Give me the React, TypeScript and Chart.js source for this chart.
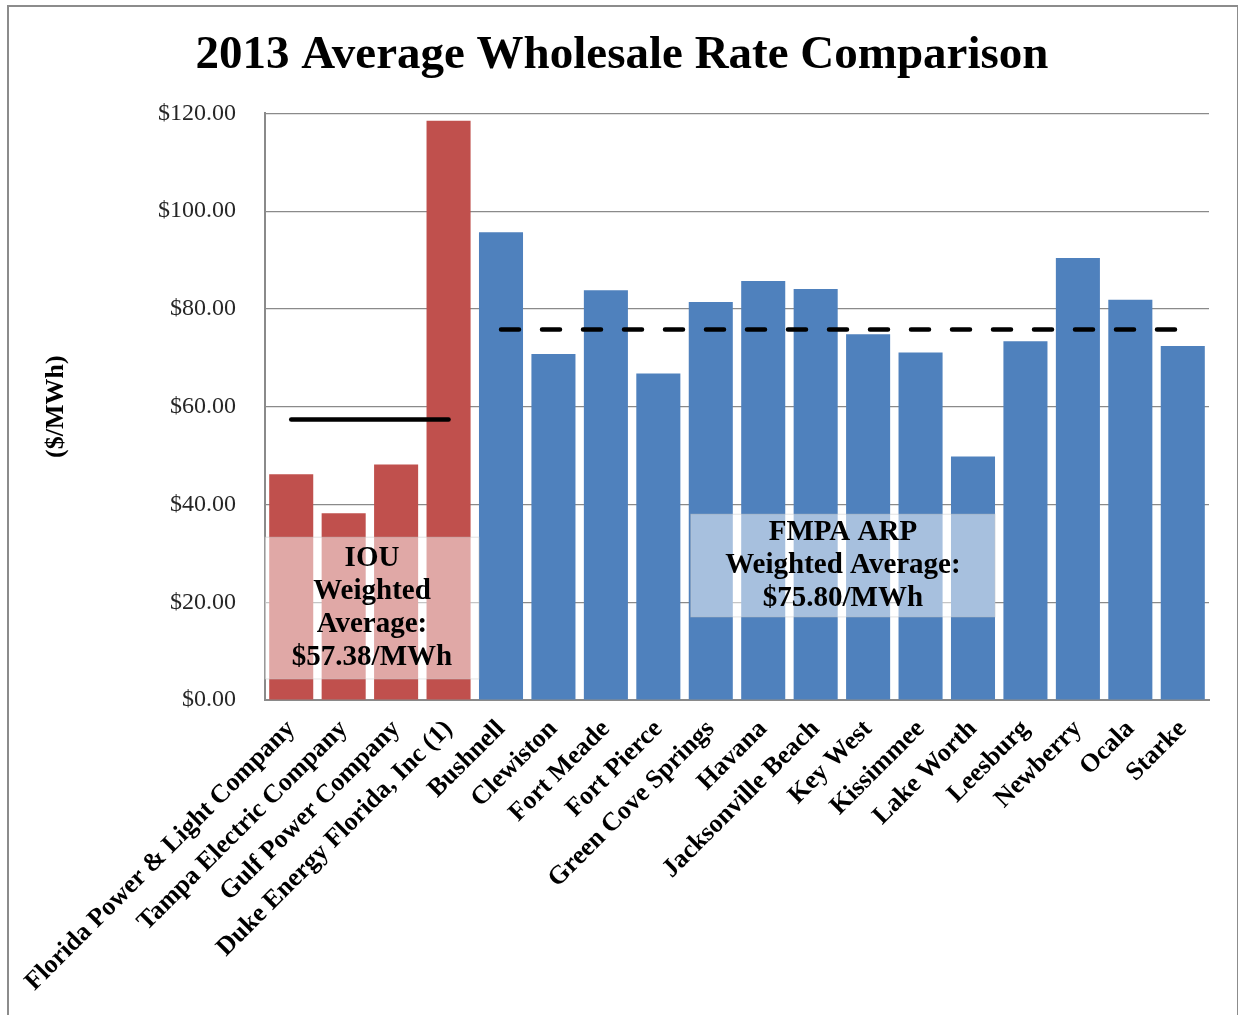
import React, { useEffect, useRef } from "react";
import { Chart, registerables } from "chart.js";

Chart.register(...registerables);

const categories = [
  "Florida Power & Light Company",
  "Tampa Electric Company",
  "Gulf Power Company",
  "Duke Energy Florida, Inc (1)",
  "Bushnell",
  "Clewiston",
  "Fort Meade",
  "Fort Pierce",
  "Green Cove Springs",
  "Havana",
  "Jacksonville Beach",
  "Key West",
  "Kissimmee",
  "Lake Worth",
  "Leesburg",
  "Newberry",
  "Ocala",
  "Starke",
];

const iouRates = [46.2, 38.2, 48.2, 118.5];
const fmpaRates = [95.7, 70.8, 83.8, 66.8, 81.4, 85.7, 84.1, 74.8, 71.1, 49.8, 73.4, 90.4, 81.9, 72.4];
const iouAverage = 57.38;
const fmpaAverage = 75.8;
const yMin = 0;
const yMax = 120;
const yStep = 20;

const iouBoxText = ["IOU", "Weighted", "Average:", "$57.38/MWh"];
const fmpaBoxText = ["FMPA ARP", "Weighted Average:", "$75.80/MWh"];

const SERIF = "'Liberation Serif', 'Times New Roman', serif";
const IOU_COLOR = "#C0504D";
const FMPA_COLOR = "#4F81BD";
const W = 1238;
const H = 1015;
const PAD_LEFT = 35;

const boxes = [
  { lines: iouBoxText, from: -0.5, to: 3.58, top: 33.3, bottom: 4.3 },
  { lines: fmpaBoxText, from: 7.62, to: 13.42, top: 38.0, bottom: 17.0 },
];

const boxPlugin = {
  id: "avgBoxes",
  afterDatasetsDraw(chart: any) {
    const ctx = chart.ctx;
    const x = chart.scales.x;
    const y = chart.scales.y;
    ctx.save();
    for (const b of boxes) {
      const x1 = x.getPixelForValue(b.from);
      const x2 = x.getPixelForValue(b.to);
      const y1 = y.getPixelForValue(b.top);
      const y2 = y.getPixelForValue(b.bottom);
      ctx.fillStyle = "rgba(255,255,255,0.5)";
      ctx.fillRect(x1, y1, x2 - x1, y2 - y1);
      ctx.strokeStyle = "rgba(200,200,200,0.5)";
      ctx.lineWidth = 1;
      ctx.strokeRect(x1, y1, x2 - x1, y2 - y1);
      ctx.fillStyle = "#000";
      ctx.font = `bold 29px ${SERIF}`;
      ctx.textAlign = "center";
      ctx.textBaseline = "middle";
      const lh = 33;
      const cx = (x1 + x2) / 2;
      const cy = (y1 + y2) / 2;
      const startY = cy - ((b.lines.length - 1) * lh) / 2;
      b.lines.forEach((t, i) => ctx.fillText(t, cx, startY + i * lh));
    }
    ctx.restore();
  },
};

export default function App() {
  const ref = useRef<HTMLCanvasElement>(null);
  useEffect(() => {
    if (!ref.current) return;
    const barData = [...iouRates, ...fmpaRates];
    const barColors = barData.map((_, i) => (i < iouRates.length ? IOU_COLOR : FMPA_COLOR));
    const iouLine = categories.map((_, i) => (i < iouRates.length ? iouAverage : null));
    const fmpaLine = categories.map((_, i) => (i >= iouRates.length ? fmpaAverage : null));
    const chart = new Chart(ref.current, {
      type: "bar",
      data: {
        labels: categories,
        datasets: [
          {
            type: "line",
            label: "IOU Weighted Average",
            data: iouLine,
            borderColor: "#000",
            borderWidth: 4.5,
            borderCapStyle: "round",
            pointRadius: 0,
            spanGaps: false,
            order: 0,
          } as any,
          {
            type: "line",
            label: "FMPA ARP Weighted Average",
            data: fmpaLine,
            borderColor: "#000",
            borderWidth: 4.5,
            borderCapStyle: "round",
            borderDash: [18, 23],
            pointRadius: 0,
            spanGaps: false,
            order: 0,
          } as any,
          {
            type: "bar",
            label: "2013 Average Wholesale Rate",
            data: barData,
            backgroundColor: barColors,
            borderWidth: 0,
            categoryPercentage: 1,
            barPercentage: 0.84,
            order: 1,
          },
        ],
      },
      options: {
        responsive: false,
        animation: false,
        devicePixelRatio: 1,
        layout: { padding: { left: PAD_LEFT, right: 29, top: 0, bottom: 0 } },
        plugins: {
          legend: { display: false },
          tooltip: { enabled: false },
          title: {
            display: true,
            text: "2013 Average Wholesale Rate Comparison",
            color: "#000",
            font: { family: SERIF, size: 47, weight: "bold" },
            padding: { top: 28, bottom: 29 },
          },
        },
        scales: {
          x: {
            grid: { display: false, drawTicks: false },
            border: { display: true, color: "#8a8a8a", width: 2 },
            ticks: {
              color: "#000",
              font: { family: SERIF, size: 26, weight: "bold" },
              maxRotation: 45,
              minRotation: 45,
              autoSkip: false,
              padding: 14,
            },
            afterFit: (s: any) => {
              s.height = H - 700;
            },
          },
          y: {
            min: yMin,
            max: yMax,
            grid: { color: "#8a8a8a", lineWidth: 1.2, drawTicks: false },
            border: { display: true, color: "#8a8a8a", width: 2 },
            ticks: {
              stepSize: yStep,
              color: "#262626",
              font: { family: SERIF, size: 24 },
              padding: 29,
              callback: (v: any) => "$" + Number(v).toFixed(2),
            },
            title: {
              display: true,
              text: "($/MWh)",
              color: "#000",
              font: { family: SERIF, size: 26, weight: "bold" },
              padding: { top: 6, bottom: 0 },
            },
            afterFit: (s: any) => {
              s.width = 265 - PAD_LEFT;
            },
          },
        },
      },
      plugins: [boxPlugin],
    });
    return () => chart.destroy();
  }, []);

  return (
    <div style={{ position: "absolute", left: 0, top: 0, width: W, height: H, background: "#fff" }}>
      <canvas ref={ref} width={W} height={H} style={{ display: "block" }} />
      <div
        style={{
          position: "absolute",
          left: 7,
          top: 5,
          width: 1228,
          height: 1040,
          border: "2px solid #8c8c8c",
          pointerEvents: "none",
        }}
      />
    </div>
  );
}
